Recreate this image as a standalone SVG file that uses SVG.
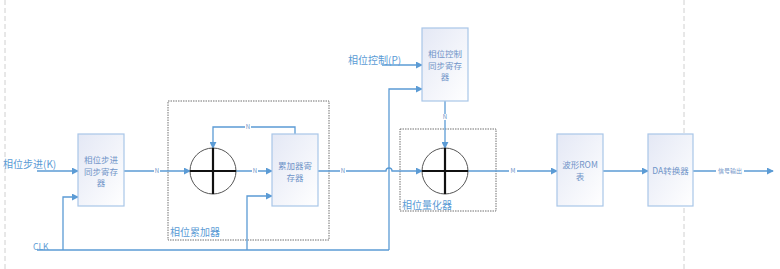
<svg xmlns="http://www.w3.org/2000/svg" width="780" height="269" viewBox="0 0 780 269">
<defs>
<linearGradient id="boxfill" x1="0" y1="0" x2="1" y2="1">
<stop offset="0" stop-color="#e4e8f5"/>
<stop offset="1" stop-color="#ffffff"/>
</linearGradient>
<marker id="arr" viewBox="0 0 8 8" refX="7" refY="4" markerWidth="7" markerHeight="7" markerUnits="userSpaceOnUse" orient="auto">
<path d="M0,0 L8,4 L0,8 Z" fill="#5b9bd5"/>
</marker>
</defs>
<style>
text{font-family:"Noto Sans CJK SC","Liberation Sans",sans-serif;}
.box{fill:url(#boxfill);stroke:#a9c6e8;stroke-width:1.2;}
.btxt{font-size:8.5px;fill:#7094c8;text-anchor:middle;}
.lbl{font-size:10px;fill:#5b9bd5;}
.con{fill:none;stroke:#5b9bd5;stroke-width:1.3;}
.arr{marker-end:url(#arr);}
.elbl{font-size:6px;fill:#7094c8;text-anchor:middle;}
.grp{fill:none;stroke:#707070;stroke-width:1;stroke-dasharray:1.5 1;}
.guide{fill:none;stroke:#d0d0d0;stroke-width:1;stroke-dasharray:5 3;}
.circ{fill:#ffffff;stroke:#555555;stroke-width:1;}
.cross{stroke:#111111;stroke-width:2.2;}
</style>
<rect width="780" height="269" fill="#ffffff"/>
<line class="guide" x1="5" y1="0" x2="5" y2="269"/>
<line class="guide" x1="684" y1="0" x2="684" y2="269"/>

<g id="group-accumulator">
<rect class="grp" x="168" y="101" width="161" height="139"/>
<text class="lbl" x="170" y="236">相位累加器</text>
</g>
<g id="group-quantizer">
<rect class="grp" x="400" y="129" width="96" height="82"/>
<text class="lbl" x="402" y="209">相位量化器</text>
</g>

<g id="connectors">
<path class="con arr" d="M37 171 H78"/>
<path class="con" d="M37 250 H389"/>
<path class="con arr" d="M63 250 V197 H78"/>
<path class="con arr" d="M124 171 H190"/>
<path class="con arr" d="M236 171 H272"/>
<path class="con arr" d="M295 134 V127 H213 V148"/>
<path class="con arr" d="M247 250 V196 H272"/>
<path class="con arr" d="M318 171 H386 A3 3 0 0 1 392 171 H422"/>
<path class="con arr" d="M389 250 V89 H422"/>
<path class="con arr" d="M382 65 H422"/>
<path class="con arr" d="M445 101 V148"/>
<path class="con arr" d="M468 171 H557"/>
<path class="con arr" d="M603 171 H648"/>
<path class="con arr" d="M693 171 H773"/>
<g id="edge-labels">
<rect x="154" y="168" width="6" height="6" fill="#fff"/><text class="elbl" x="157" y="173">N</text>
<rect x="245" y="124" width="6" height="6" fill="#fff"/><text class="elbl" x="248" y="129">N</text>
<rect x="252" y="168" width="6" height="6" fill="#fff"/><text class="elbl" x="255" y="173">N</text>
<rect x="340" y="168" width="6" height="6" fill="#fff"/><text class="elbl" x="343" y="173">N</text>
<rect x="442" y="114" width="6" height="6" fill="#fff"/><text class="elbl" x="445" y="119">N</text>
<rect x="509" y="168" width="8" height="6" fill="#fff"/><text class="elbl" x="513" y="173">M</text>
<rect x="716" y="167" width="28" height="8" fill="#fff"/><text class="elbl" x="730" y="173">信号输出</text>
</g>
</g>

<g id="input-k"><text class="lbl" x="3" y="168">相位步进(K)</text></g>
<g id="input-clk"><text class="lbl" x="33" y="250" style="font-size:8.5px">CLK</text></g>
<g id="input-p"><text class="lbl" x="348" y="64">相位控制(P)</text></g>

<g id="phase-step-reg">
<rect class="box" x="78" y="134" width="46" height="72"/>
<text class="btxt" x="101" y="163">相位步进</text>
<text class="btxt" x="101" y="174.5">同步寄存</text>
<text class="btxt" x="101" y="186">器</text>
</g>

<g id="adder1">
<circle class="circ" cx="213" cy="171" r="23"/>
<line class="cross" x1="190" y1="171" x2="236" y2="171"/>
<line class="cross" x1="213" y1="148" x2="213" y2="194"/>
</g>

<g id="acc-reg">
<rect class="box" x="272" y="134" width="46" height="72"/>
<text class="btxt" x="295" y="169">累加器寄</text>
<text class="btxt" x="295" y="180.5">存器</text>
</g>

<g id="phase-ctrl-reg">
<rect class="box" x="422" y="28" width="46" height="73"/>
<text class="btxt" x="445" y="57">相位控制</text>
<text class="btxt" x="445" y="68.5">同步寄存</text>
<text class="btxt" x="445" y="80">器</text>
</g>

<g id="adder2">
<circle class="circ" cx="445" cy="171" r="23"/>
<line class="cross" x1="422" y1="171" x2="468" y2="171"/>
<line class="cross" x1="445" y1="148" x2="445" y2="194"/>
</g>

<g id="rom">
<rect class="box" x="557" y="134" width="46" height="72"/>
<text class="btxt" x="580" y="168">波形ROM</text>
<text class="btxt" x="580" y="180">表</text>
</g>

<g id="dac">
<rect class="box" x="648" y="134" width="45" height="72"/>
<text class="btxt" x="670.5" y="174">DA转换器</text>
</g>
</svg>
